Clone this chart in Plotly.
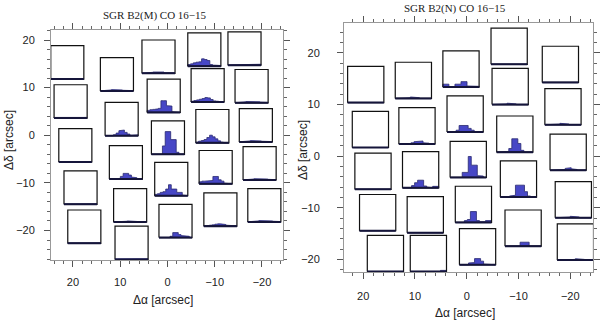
import plotly.graph_objects as go

W, H = 600, 322
BOX = 7.0  # side of each spectrum box, arcsec

# SGR B2(M): box centres (arcsec) and spectra (fraction of box height, 12 channels)
m_dra = [21.2, 10.7, 1.9, -7.8, -16.3, 20.5, 9.7, 0.8, -8.5, -17.8, 19.5, 8.8, -0.1,
         -9.5, -18.7, -10.2, -19.5, 18.4, -0.8, 7.9, -11.2, -20.5, 17.6, -1.7, 7.6]
m_ddec = [15.3, 12.8, 16.5, 18.0, 18.2, 7.1, 3.4, 8.3, 10.5, 10.3, -2.1, -5.7, -0.5,
          1.9, 2.1, -6.7, -5.9, -11.0, -9.2, -14.7, -15.6, -14.7, -19.2, -18.0, -22.6]
m_spec = [
    [0.01, 0.01, 0.01, 0.01, 0.01, 0.01, 0.01, 0.01, 0.01, 0.01, 0.01, 0.01],
    [0.01, 0.01, 0.02, 0.03, 0.04, 0.05, 0.04, 0.03, 0.02, 0.01, 0.01, 0.01],
    [0.01, 0.01, 0.02, 0.03, 0.04, 0.06, 0.05, 0.04, 0.02, 0.01, 0.01, 0.01],
    [0.05, 0.07, 0.10, 0.12, 0.13, 0.22, 0.20, 0.17, 0.05, 0.03, 0.03, 0.02],
    [0.01, 0.01, 0.01, 0.01, 0.02, 0.02, 0.02, 0.02, 0.01, 0.01, 0.01, 0.03],
    [0.02, 0.02, 0.02, 0.02, 0.02, 0.02, 0.02, 0.02, 0.02, 0.02, 0.02, 0.02],
    [0.00, 0.00, 0.00, 0.03, 0.08, 0.15, 0.17, 0.10, 0.05, 0.00, 0.00, 0.02],
    [0.06, 0.08, 0.09, 0.10, 0.12, 0.35, 0.35, 0.20, 0.19, 0.02, 0.00, 0.00],
    [0.02, 0.04, 0.06, 0.08, 0.10, 0.13, 0.12, 0.07, 0.03, 0.02, 0.01, 0.00],
    [0.01, 0.01, 0.02, 0.03, 0.04, 0.05, 0.05, 0.04, 0.03, 0.02, 0.01, 0.01],
    [0.01, 0.01, 0.01, 0.01, 0.01, 0.01, 0.01, 0.01, 0.01, 0.01, 0.01, 0.01],
    [0.00, 0.00, 0.00, 0.02, 0.08, 0.17, 0.17, 0.12, 0.06, 0.04, 0.00, 0.00],
    [0.00, 0.00, 0.00, 0.00, 0.25, 0.68, 0.68, 0.44, 0.44, 0.06, 0.00, 0.00],
    [0.02, 0.05, 0.07, 0.10, 0.16, 0.23, 0.18, 0.12, 0.06, 0.02, 0.00, 0.00],
    [0.01, 0.01, 0.02, 0.03, 0.04, 0.05, 0.04, 0.03, 0.02, 0.01, 0.01, 0.01],
    [0.06, 0.08, 0.08, 0.08, 0.10, 0.22, 0.22, 0.12, 0.08, 0.02, 0.00, 0.00],
    [0.01, 0.01, 0.02, 0.03, 0.04, 0.05, 0.05, 0.04, 0.03, 0.02, 0.01, 0.01],
    [0.01, 0.01, 0.01, 0.01, 0.01, 0.01, 0.01, 0.01, 0.01, 0.01, 0.01, 0.01],
    [0.04, 0.06, 0.10, 0.12, 0.20, 0.33, 0.20, 0.20, 0.10, 0.10, 0.02, 0.00],
    [0.00, 0.00, 0.00, 0.01, 0.02, 0.03, 0.03, 0.02, 0.01, 0.00, 0.00, 0.00],
    [0.01, 0.02, 0.03, 0.04, 0.06, 0.07, 0.07, 0.05, 0.03, 0.02, 0.01, 0.01],
    [0.01, 0.01, 0.02, 0.03, 0.04, 0.05, 0.05, 0.04, 0.03, 0.02, 0.01, 0.01],
    [0.01, 0.01, 0.01, 0.01, 0.01, 0.01, 0.01, 0.01, 0.01, 0.01, 0.01, 0.01],
    [0.00, 0.00, 0.00, 0.00, 0.04, 0.15, 0.15, 0.09, 0.06, 0.06, 0.04, 0.00],
    [0.02, 0.02, 0.02, 0.02, 0.02, 0.02, 0.02, 0.02, 0.02, 0.02, 0.02, 0.02],
]

# SGR B2(N)
n_dra = [19.5, 10.3, 1.1, -8.2, -18.1, -8.4, 18.6, 9.6, 0.3, -18.6, -9.3, -19.6, -0.3,
         8.9, 18.1, -10.0, -20.6, -1.3, 17.2, 8.0, -10.9, -2.1, -21.0, 15.7, 7.4]
n_ddec = [13.9, 14.7, 16.9, 21.3, 17.8, 13.5, 5.2, 5.9, 8.2, 9.6, 4.3, 0.8, -0.6,
          -2.6, -2.9, -4.4, -8.4, -9.3, -10.9, -11.3, -13.9, -17.5, -16.6, -18.8, -18.8]
n_spec = [
    [0.00, 0.00, 0.00, 0.00, 0.00, 0.00, 0.00, 0.00, 0.00, 0.00, 0.00, 0.00],
    [0.00, 0.00, 0.00, 0.00, 0.02, 0.04, 0.04, 0.02, 0.00, 0.00, 0.00, 0.00],
    [0.08, 0.08, 0.00, 0.00, 0.08, 0.08, 0.15, 0.15, 0.03, 0.02, 0.02, 0.02],
    [0.00, 0.00, 0.00, 0.02, 0.02, 0.00, 0.00, 0.00, 0.00, 0.00, 0.00, 0.00],
    [0.00, 0.00, 0.00, 0.00, 0.00, 0.02, 0.02, 0.00, 0.00, 0.00, 0.00, 0.00],
    [0.00, 0.00, 0.00, 0.00, 0.02, 0.04, 0.04, 0.02, 0.00, 0.00, 0.00, 0.00],
    [0.00, 0.00, 0.00, 0.00, 0.00, 0.00, 0.00, 0.00, 0.00, 0.00, 0.00, 0.00],
    [0.00, 0.00, 0.00, 0.00, 0.03, 0.06, 0.08, 0.08, 0.03, 0.02, 0.00, 0.00],
    [0.00, 0.00, 0.00, 0.05, 0.18, 0.18, 0.18, 0.10, 0.05, 0.00, 0.00, 0.00],
    [0.00, 0.00, 0.00, 0.00, 0.02, 0.04, 0.04, 0.02, 0.00, 0.00, 0.00, 0.00],
    [0.00, 0.00, 0.00, 0.02, 0.10, 0.37, 0.37, 0.24, 0.05, 0.00, 0.00, 0.00],
    [0.00, 0.00, 0.00, 0.00, 0.02, 0.05, 0.07, 0.04, 0.02, 0.00, 0.00, 0.00],
    [0.00, 0.00, 0.00, 0.00, 0.14, 0.14, 0.58, 0.34, 0.34, 0.05, 0.04, 0.00],
    [0.00, 0.00, 0.00, 0.06, 0.14, 0.21, 0.21, 0.05, 0.02, 0.00, 0.04, 0.04],
    [0.00, 0.00, 0.00, 0.00, 0.00, 0.00, 0.00, 0.00, 0.00, 0.00, 0.00, 0.00],
    [0.00, 0.00, 0.00, 0.03, 0.05, 0.33, 0.33, 0.33, 0.15, 0.03, 0.00, 0.00],
    [0.00, 0.00, 0.00, 0.00, 0.02, 0.04, 0.04, 0.02, 0.00, 0.00, 0.00, 0.00],
    [0.00, 0.00, 0.00, 0.05, 0.08, 0.30, 0.30, 0.05, 0.02, 0.02, 0.05, 0.05],
    [0.00, 0.00, 0.00, 0.00, 0.00, 0.00, 0.00, 0.00, 0.00, 0.00, 0.00, 0.00],
    [0.00, 0.00, 0.00, 0.00, 0.01, 0.02, 0.02, 0.01, 0.00, 0.00, 0.00, 0.00],
    [0.00, 0.00, 0.00, 0.00, 0.00, 0.11, 0.11, 0.11, 0.00, 0.00, 0.00, 0.00],
    [0.00, 0.00, 0.00, 0.05, 0.06, 0.17, 0.17, 0.10, 0.02, 0.00, 0.01, 0.00],
    [0.00, 0.00, 0.00, 0.00, 0.00, 0.02, 0.04, 0.04, 0.02, 0.00, 0.00, 0.00],
    [0.00, 0.00, 0.00, 0.00, 0.00, 0.00, 0.00, 0.00, 0.00, 0.00, 0.00, 0.00],
    [0.00, 0.00, 0.00, 0.02, 0.00, 0.00, 0.02, 0.00, 0.00, 0.00, 0.03, 0.03],
]

tick_vals = [20, 10, 0, -10, -20]


def px(x):
    return x / W


def py(y):
    return 1 - y / H


def box_traces(dra, ddec, spec, xa, ya):
    ox, oy, sx, sy, bx, by = [], [], [], [], [], []
    for x0, y0, s in zip(dra, ddec, spec):
        left, right = x0 + BOX / 2, x0 - BOX / 2   # RA runs right-to-left
        bot, top = y0 - BOX / 2, y0 + BOX / 2
        ox += [left, right, right, left, left, None]
        oy += [bot, bot, top, top, bot, None]
        bx += [left, right, None]
        by += [bot, bot, None]
        w = (right - left) / len(s)
        xs, ys = [left], [bot]
        for i, v in enumerate(s):
            xs += [left + i * w, left + (i + 1) * w]
            ys += [bot + v * BOX, bot + v * BOX]
        sx += xs + [right, left, None]
        sy += ys + [bot, bot, None]
    return [
        go.Scatter(x=sx, y=sy, mode='lines', fill='toself', fillcolor='#4747c6',
                   line=dict(color='#2a2a70', width=0.8), xaxis=xa, yaxis=ya,
                   hoverinfo='skip'),
        go.Scatter(x=ox, y=oy, mode='lines', line=dict(color='#111111', width=1.2),
                   xaxis=xa, yaxis=ya, hoverinfo='skip'),
        go.Scatter(x=bx, y=by, mode='lines', line=dict(color='#15153a', width=2),
                   xaxis=xa, yaxis=ya, hoverinfo='skip'),
    ]


fig = go.Figure()
for t in box_traces(m_dra, m_ddec, m_spec, 'x', 'y'):
    fig.add_trace(t)
for t in box_traces(n_dra, n_ddec, n_spec, 'x2', 'y2'):
    fig.add_trace(t)

axis_style = dict(
    showgrid=False, zeroline=False, showline=True, linecolor='#999999', linewidth=1,
    mirror='ticks', ticks='outside', ticklen=6, tickwidth=1, tickcolor='#555555',
    tickvals=tick_vals, ticktext=[str(v).replace('-', '\u2212') for v in tick_vals],
    minor=dict(dtick=2, tick0=0, ticks='outside', ticklen=3, tickcolor='#666666'),
    tickfont=dict(family='Liberation Sans', size=11, color='#222222'),
)

fig.update_layout(
    width=W, height=H,
    margin=dict(l=0, r=0, t=0, b=0),
    paper_bgcolor='white', plot_bgcolor='white',
    showlegend=False,
    xaxis=dict(axis_style, domain=[px(51), px(283)], range=[24.65, -24.45],
               anchor='y', ticklabelstandoff=6),
    yaxis=dict(axis_style, domain=[py(260), py(30)], range=[-26.2, 22.1],
               anchor='x', ticklabelstandoff=7),
    xaxis2=dict(axis_style, domain=[px(344), px(593)], range=[23.7, -24.4],
                anchor='y2', ticklabelstandoff=8),
    yaxis2=dict(axis_style, domain=[py(272), py(23)], range=[-22.4, 25.8],
                anchor='x2', ticklabelstandoff=15),
)

title_font = dict(family='Liberation Serif', size=11, color='#222222')
label_font = dict(family='Liberation Sans', size=12, color='#222222')
notes = [
    dict(x=px(155), y=py(15), text='SGR B2(M) CO 16\u221215', font=title_font),
    dict(x=px(455), y=py(8), text='SGR B2(N) CO 16\u221215', font=title_font),
    dict(x=px(163), y=py(300), text='\u0394\u03b1 [arcsec]', font=label_font),
    dict(x=px(465), y=py(313), text='\u0394\u03b1 [arcsec]', font=label_font),
    dict(x=px(9), y=py(140), text='\u0394\u03b4 [arcsec]', font=label_font, textangle=-90),
    dict(x=px(303), y=py(150), text='\u0394\u03b4 [arcsec]', font=label_font, textangle=-90),
]
for n in notes:
    fig.add_annotation(xref='paper', yref='paper', showarrow=False,
                       xanchor='center', yanchor='middle', **n)

# drop the browser's default 8px body margin so the figure sits at the page corner
fig.write_html("out.html", config={'displayModeBar': False},
               post_script="document.body.style.margin = '0px';")
